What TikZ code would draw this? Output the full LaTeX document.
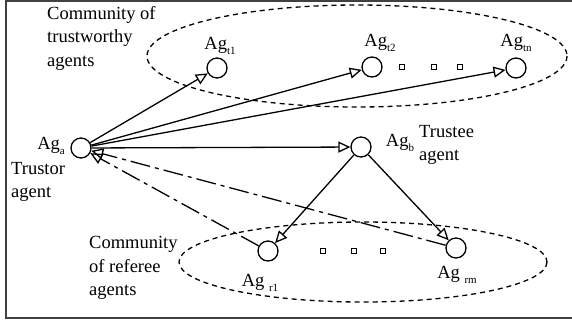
\documentclass[tikz,border=0pt]{standalone}
\usepackage{fontspec}
\setmainfont{Liberation Serif}
\usetikzlibrary{arrows.meta}

% subscript of an agent name
\newcommand{\agsub}[1]{\raisebox{-0.55ex}{\fontsize{11}{11}\selectfont #1}}

\tikzset{
  agent/.style={circle, draw, line width=1.3pt, minimum size=20pt, inner sep=0pt},
  lbl/.style={inner sep=0pt, font=\fontsize{18.5}{23.5}\selectfont},
  dot/.style={draw, line width=1.2pt, minimum size=5.5pt, inner sep=0pt},
  community/.style={draw, line width=1.3pt, dash pattern=on 5pt off 4pt},
  ask/.style={line width=1.3pt, -{Triangle[open, length=12pt, width=11pt]}},
  reply/.style={ask, dash pattern=on 20pt off 5pt on 4pt off 5pt}
}

\begin{document}
\begin{tikzpicture}[x=1pt, y=-1pt]
    \useasboundingbox (0,0) rectangle (572,325);
    % Rahmen
    \draw[line width=1.5pt, black!75] (572,1) -- (6,1) -- (6,318) -- (572,318);

    % Gemeinschaften
    \draw[community] (357,56) ellipse (210 and 51);
    \draw[community] (363,262) ellipse (184 and 40);

    % Agenten
    \node[agent] (a) at (81,148) {};
    \node[agent] (t1) at (217,68) {};
    \node[agent] (t2) at (372,67) {};
    \node[agent] (tn) at (516,68) {};
    \node[agent] (b) at (361,147) {};
    \node[agent] (r1) at (268,251) {};
    \node[agent] (rm) at (456,248) {};

    % Punkte
    \node[dot] (d1) at (402,67) {};
    \node[dot] (d2) at (434,67) {};
    \node[dot] (d3) at (460,67) {};
    \node[dot] (d4) at (323,251) {};
    \node[dot] (d5) at (354,251) {};
    \node[dot] (d6) at (383,251) {};

    % Beschriftungen
    \node[lbl, align=left, anchor=west] (ct) at (47,38) {Community of\\trustworthy\\agents};
    \node[lbl, align=left, anchor=west] (cr) at (89,268) {Community\\of referee\\agents};
    \node[lbl, align=left, anchor=west] (tor) at (11,182) {Trustor\\agent};
    \node[lbl, align=left, anchor=west] (tee) at (419,145) {Trustee\\agent};
    \node[lbl] (la) at (51,146) {Ag\agsub{a}};
    \node[lbl] (lt1) at (220,46) {Ag\agsub{t1}};
    \node[lbl] (lt2) at (380,43) {Ag\agsub{t2}};
    \node[lbl] (ltn) at (516,43) {Ag\agsub{tn}};
    \node[lbl] (lb) at (400,143) {Ag\agsub{b}};
    \node[lbl] (lr1) at (260,283) {Ag \agsub{r1}};
    \node[lbl] (lrm) at (457,275) {Ag \agsub{rm}};

    % Anfragen
    \draw[ask] (a) -- (t1);
    \draw[ask] (a) -- (t2);
    \draw[ask] (a) -- (tn);
    \draw[ask] (a) -- (b);
    \draw[ask] (b) -- (r1);
    \draw[ask] (b) -- (rm);

    % Empfehlungen
    \draw[reply] (r1) -- (a);
    \draw[reply] (rm) -- (a);
\end{tikzpicture}
\end{document}
